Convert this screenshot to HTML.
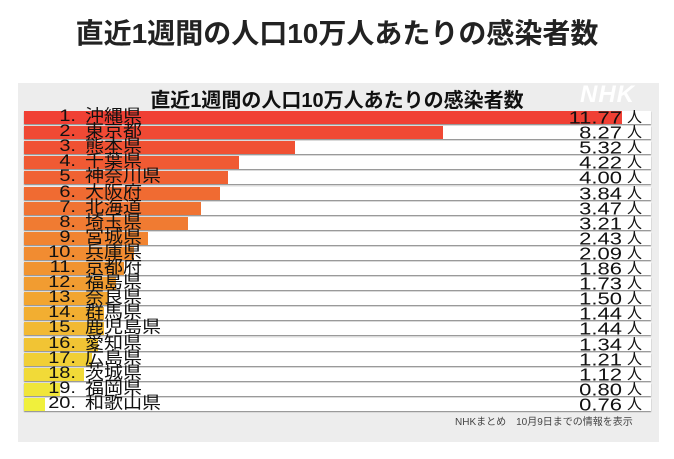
<!DOCTYPE html>
<html><head><meta charset="utf-8"><style>
body{margin:0;width:674px;height:459px;background:#fff;position:relative;overflow:hidden;font-family:"Liberation Sans","Noto Sans CJK JP",sans-serif}
.t{position:absolute;top:12px;left:0;width:674px;text-align:center;font-size:28px;font-weight:bold;color:#222}
.p{position:absolute;left:18px;top:83px;width:641px;height:359px;background:#ededed}
.st{position:absolute;left:0;top:84px;width:674px;text-align:center;font-size:20px;font-weight:bold;color:#111}
.nhk{position:absolute;left:580px;top:81px;font-size:24px;font-weight:bold;font-style:italic;color:#fff;letter-spacing:1px}
.r{position:absolute;left:24px;width:627px;height:13px;background:#fff;box-shadow:0 1px 1px #888}
.b{position:absolute;left:0;top:0;height:13px}
.n{position:absolute;font-size:19px;line-height:15px;color:#111;transform:scaleY(.9);white-space:pre}
.k{position:absolute;width:40px;text-align:right;left:36px;font-size:20px;line-height:15px;color:#111;transform:scaleY(.85)}
.v{position:absolute;right:52px;font-size:22px;line-height:15px;color:#111;text-align:right;transform:scaleY(.8);transform-origin:right}
.u{position:absolute;left:627px;font-size:15px;line-height:15px;color:#111}
.f{position:absolute;left:455px;top:413px;font-size:10px;color:#444}
</style></head><body>
<div class="t">直近1週間の人口10万人あたりの感染者数</div>
<div class="p"></div>
<div class="st">直近1週間の人口10万人あたりの感染者数</div>
<div class="nhk">NHK</div>
<div id="c"></div>
<div class="f">NHKまとめ　10月9日までの情報を表示</div>
<script>
var d=[["沖縄県","11.77",598],["東京都","8.27",419],["熊本県","5.32",271],["千葉県","4.22",215],["神奈川県","4.00",204],["大阪府","3.84",196],["北海道","3.47",177],["埼玉県","3.21",164],["宮城県","2.43",124],["兵庫県","2.09",110],["京都府","1.86",100],["福島県","1.73",92],["奈良県","1.50",84],["群馬県","1.44",80],["鹿児島県","1.44",80],["愛知県","1.34",74],["広島県","1.21",68],["茨城県","1.12",60],["福岡県","0.80",36],["和歌山県","0.76",21]];
function col(i){var s=[[240,64,52],[240,118,50],[242,170,48],[240,240,60]];var t=i/19*3,k=Math.min(2,Math.floor(t)),f=t-k;var a=s[k],b=s[k+1];return"rgb("+a.map((x,j)=>Math.round(x+(b[j]-x)*f)).join(",")+")";}
var h="";d.forEach(function(r,i){var y=111+i*15.1;h+='<div class="r" style="top:'+y+'px"><div class="b" style="width:'+r[2]+'px;background:'+col(i)+'"></div></div>';
h+='<div class="k" style="top:'+(y-2)+'px">'+(i+1)+'.</div>';
h+='<div class="n" style="left:85px;top:'+(y-2)+'px">'+r[0]+'</div>';
h+='<div class="v" style="top:'+(y-1)+'px">'+r[1]+'</div><div class="u" style="top:'+(y-1)+'px">人</div>';});
document.getElementById("c").innerHTML=h;
</script>
</body></html>
